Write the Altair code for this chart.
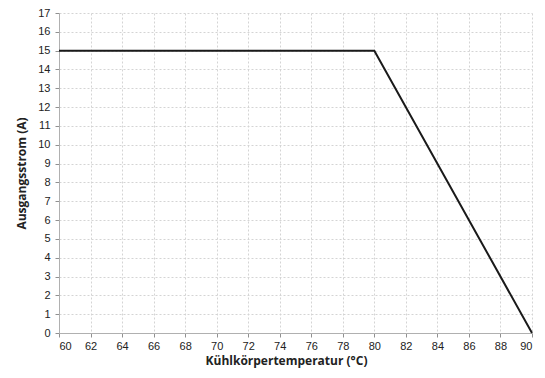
import altair as alt
import pandas as pd

temps = [60, 80, 90]
currents = [15, 15, 0]

df = pd.DataFrame({"t": temps, "i": currents})

common = dict(grid=True, gridDash=[2, 2], gridColor="#d4d4d4",
              domainColor="#b0b0b0", tickColor="#909090", tickSize=4,
              labelFont="Liberation Sans Narrow, Liberation Sans", labelFontSize=11,
              labelColor="#222",
              titleFont="Open Sans", titleFontSize=12,
              titleFontWeight="bold", titleColor="#222")

chart = alt.Chart(df).mark_line(color="#1a1a1a", strokeWidth=2).encode(
    x=alt.X("t:Q", scale=alt.Scale(domain=[60, 90], nice=False, zero=False),
            axis=alt.Axis(values=list(range(60, 91, 2)), title="Kühlkörpertemperatur (°C)",
                          labelPadding=3, titlePadding=4, titleX=227, **common)),
    y=alt.Y("i:Q", scale=alt.Scale(domain=[0, 17], nice=False),
            axis=alt.Axis(values=list(range(0, 18)), title="Ausgangsstrom (A)",
                          labelPadding=5, titlePadding=9, **common)),
).properties(
    width=473, height=320,
    autosize=alt.AutoSizeParams(type="none"),
    padding={"left": 51, "top": 5, "right": 5, "bottom": 36},
).configure_view(stroke=None)

chart.save("out.html", embed_options={"renderer": "svg", "actions": False})
